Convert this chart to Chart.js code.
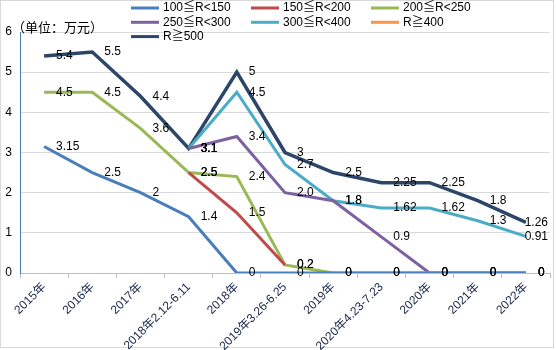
<!DOCTYPE html>
<html>
<head>
<meta charset="utf-8">
<script src="https://cdn.jsdelivr.net/npm/chart.js@4.4.1/dist/chart.umd.min.js"></script>
<style>
  body { margin: 0; background: #fff; }
  canvas { display: block; }
</style>
</head>
<body>
<canvas id="priceChart" width="556" height="350"></canvas>
<script>
// categories (x axis)
const categories = ["2015年", "2016年", "2017年", "2018年2.12-6.11", "2018年",
  "2019年3.26-6.25", "2019年", "2020年4.23-7.23", "2020年", "2021年", "2022年"];
const yTicks = [0, 1, 2, 3, 4, 5, 6];

// series values (单位：万元)
const r100_150 = [3.15, 2.5, 2, 1.4, 0, 0, 0, 0, 0, 0, 0];
const r150_200 = [null, null, null, 2.5, 1.5, 0.2, null, null, null, null, null];
const r200_250 = [4.5, 4.5, 3.6, 2.5, 2.4, 0.2, 0, 0, 0, 0, 0];
const r250_300 = [null, null, null, 3.1, 3.4, "2.0", 1.8, 0.9, 0, 0, 0]; // "2.0" kept as shown
const r300_400 = [null, null, null, 3.1, 4.5, 2.7, 1.8, 1.62, 1.62, 1.3, 0.91];
const r400 = [null, null, null, null, null, null, null, null, null, null, null];
const r500 = [5.4, 5.5, 4.4, 3.1, 5, 3, 2.5, 2.25, 2.25, 1.8, 1.26];

const seriesNames = ["100≦R<150", "150≦R<200", "200≦R<250", "250≦R<300", "300≦R<400", "R≧400", "R≧500"];
const seriesData = [r100_150, r150_200, r200_250, r250_300, r300_400, r400, r500];
const seriesColors = ["#4a7ebb", "#be4b48", "#98b954", "#7d60a0", "#4bacc6", "#f79646", "#2b4668"];

const cjk = '"Liberation Sans", "Noto Sans CJK SC", sans-serif';

// value labels to the right of each point, kept inside the plot
const valueLabels = {
  id: "valueLabels",
  afterDatasetsDraw(chart) {
    const ctx = chart.ctx;
    const right = chart.chartArea.right - 2;
    ctx.save();
    ctx.font = "12px " + cjk;
    ctx.fillStyle = "#000";
    ctx.textAlign = "left";
    ctx.textBaseline = "middle";
    chart.data.datasets.forEach((ds, i) => {
      const meta = chart.getDatasetMeta(i);
      meta.data.forEach((pt, j) => {
        const v = ds.data[j];
        if (v === null || v === undefined) return;
        const txt = String(v);
        const w = ctx.measureText(txt).width;
        ctx.fillText(txt, Math.min(pt.x + 12, right - w), pt.y);
      });
    });
    ctx.restore();
  }
};

// legend grid, unit note and outer frame
const decorations = {
  id: "decorations",
  beforeDraw(chart) {
    const ctx = chart.ctx;
    ctx.save();
    ctx.fillStyle = "#fff";
    ctx.fillRect(0, 0, chart.width, chart.height);
    ctx.strokeStyle = "#d9d9d9";
    ctx.lineWidth = 1;
    ctx.strokeRect(0.5, 0.5, 553, 347);
    ctx.restore();
  },
  afterDraw(chart) {
    const ctx = chart.ctx;
    ctx.save();
    ctx.textBaseline = "middle";
    ctx.textAlign = "left";
    ctx.font = "12px " + cjk;
    chart.data.datasets.forEach((ds, i) => {
      const x = 131 + (i % 3) * 120;
      const y = 8 + Math.floor(i / 3) * 14.3;
      ctx.strokeStyle = ds.borderColor;
      ctx.lineWidth = 3;
      ctx.beginPath();
      ctx.moveTo(x, y);
      ctx.lineTo(x + 28, y);
      ctx.stroke();
      ctx.fillStyle = "#000";
      ctx.fillText(ds.label, x + 32, y);
    });
    ctx.font = '13px "Noto Sans CJK SC", sans-serif';
    ctx.fillText("（单位：万元）", 12, 27);
    ctx.restore();
  }
};

new Chart(document.getElementById("priceChart"), {
  type: "line",
  data: {
    labels: categories,
    datasets: seriesNames.map((name, i) => ({
      label: name,
      data: seriesData[i],
      borderColor: seriesColors[i],
      backgroundColor: seriesColors[i],
      borderWidth: i === 6 ? 3.5 : 3,
      pointRadius: 0,
      tension: 0,
      fill: false,
    })),
  },
  options: {
    responsive: false,
    animation: false,
    layout: { padding: { top: 32, right: 6, left: 0, bottom: 0 } },
    plugins: {
      legend: { display: false },
      tooltip: { enabled: false },
    },
    scales: {
      x: {
        offset: true,
        grid: { display: true, drawOnChartArea: false, offset: true, tickLength: 5, color: "#bfbfbf" },
        border: { color: "#bfbfbf" },
        ticks: {
          autoSkip: false,
          minRotation: 45,
          maxRotation: 45,
          padding: 2,
          color: "#17274a",
          font: { size: 12, family: cjk },
        },
        afterFit(scale) { scale.height = 77; },
      },
      y: {
        min: 0,
        max: 6,
        afterBuildTicks(scale) { scale.ticks = yTicks.map(v => ({ value: v })); },
        grid: { color: "#d9d9d9", drawTicks: false },
        border: { color: "#4a7ebb" },
        ticks: { padding: 8, color: "#000", font: { size: 12, family: cjk } },
        afterFit(scale) { scale.width = 20; },
      },
    },
  },
  plugins: [valueLabels, decorations],
});
</script>
</body>
</html>
